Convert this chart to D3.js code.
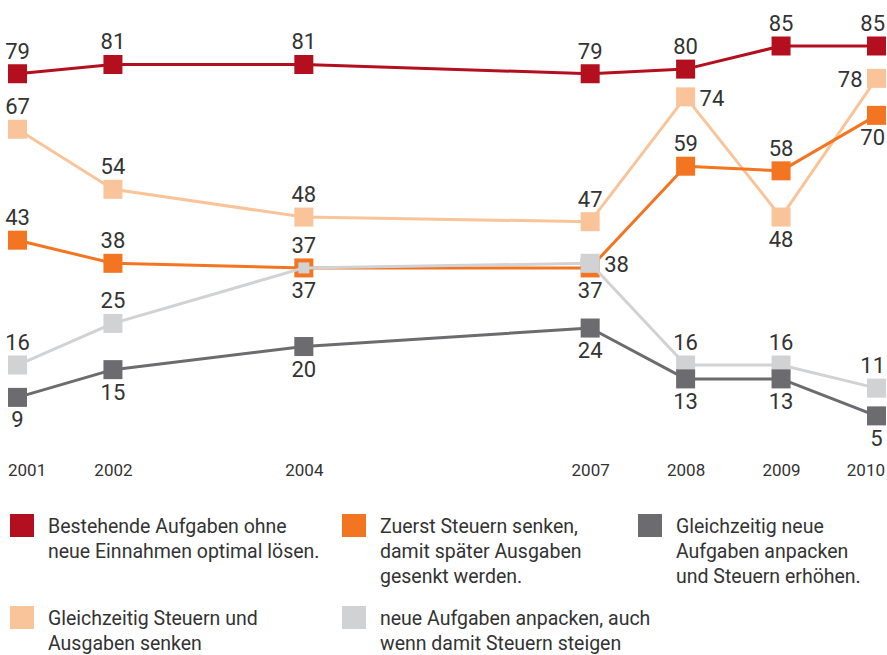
<!DOCTYPE html>
<html>
<head>
<meta charset="utf-8">
<script src="https://cdn.jsdelivr.net/npm/d3@7"></script>
<style>
  body { margin: 0; background: #fff; }
  svg { display: block; }
  .val { font-family: Roboto, sans-serif; font-size: 22px; fill: #333; }
  .axis text { font-family: Roboto, sans-serif; font-size: 17px; fill: #333; }
  .legend text { font-family: Roboto, sans-serif; font-size: 19.5px; fill: #333; }
</style>
</head>
<body>
<div id="chart"></div>
<script>
'use strict';

// survey years
var years = [2001, 2002, 2004, 2007, 2008, 2009, 2010];

// values per answer (percent)
var bestehende = [79, 81, 81, 79, 80, 85, 85];
var gleichzeitigSenken = [67, 54, 48, 47, 74, 48, 78];
var zuerstSenken = [43, 38, 37, 37, 59, 58, 70];
var neueAufgaben = [16, 25, 37, 38, 16, 16, 11];
var gleichzeitigErhoehen = [9, 15, 20, 24, 13, 13, 5];

// legend texts, split into lines as in the original
var legendBestehende = ["Bestehende Aufgaben ohne", "neue Einnahmen optimal lösen."];
var legendZuerst = ["Zuerst Steuern senken,", "damit später Ausgaben", "gesenkt werden."];
var legendErhoehen = ["Gleichzeitig neue", "Aufgaben anpacken", "und Steuern erhöhen."];
var legendSenken = ["Gleichzeitig Steuern und", "Ausgaben senken"];
var legendNeue = ["neue Aufgaben anpacken, auch", "wenn damit Steuern steigen"];

// where each value label sits relative to its marker: t=top, b=bottom, l=left, r=right
var labelsBestehende = ["t", "t", "t", "t", "t", "t", "t"];
var labelsSenken = ["t", "t", "t", "t", "r", "b", "l"];
var labelsZuerst = ["t", "t", "t", "b", "t", "t", "b"];
var labelsNeue = ["t", "t", "b", "r", "t", "t", "t"];
var labelsErhoehen = ["b", "b", "b", "b", "b", "b", "b"];

var width = 887, height = 655;
var markerSize = 19;

// drawing order matters: later series sit on top
var series = [
    {values: bestehende, color: "#b30f1f", labels: labelsBestehende},
    {values: gleichzeitigSenken, color: "#f9c49a", labels: labelsSenken},
    {values: zuerstSenken, color: "#f37521", labels: labelsZuerst},
    {values: neueAufgaben, color: "#d1d2d4", labels: labelsNeue, insetOn: zuerstSenken},
    {values: gleichzeitigErhoehen, color: "#6b6b70", labels: labelsErhoehen}
];

var legendItems = [
    {lines: legendBestehende, color: "#b30f1f", col: 0, row: 0},
    {lines: legendZuerst, color: "#f37521", col: 1, row: 0},
    {lines: legendErhoehen, color: "#6b6b70", col: 2, row: 0},
    {lines: legendSenken, color: "#f9c49a", col: 0, row: 1},
    {lines: legendNeue, color: "#d1d2d4", col: 1, row: 1}
];

var svg = d3.select("#chart").append("svg")
    .attr("width", width)
    .attr("height", height);

var x = d3.scaleLinear().domain([2001, 2010]).range([17.5, 876.5]);
var y = d3.scaleLinear().domain([0, 85]).range([439, 46]);

var line = d3.line()
    .x(function(d) { return x(d.year); })
    .y(function(d) { return y(d.value); });

var plot = svg.append("g").attr("class", "plot");

series.forEach(function(s) {
    var pts = years.map(function(yr, i) {
        return {year: yr, value: s.values[i], pos: s.labels[i], inset: s.insetOn ? s.insetOn[i] === s.values[i] : false};
    });
    s.points = pts;

    var g = plot.append("g");
    g.append("path")
        .datum(pts)
        .attr("fill", "none")
        .attr("stroke", s.color)
        .attr("stroke-width", 3)
        .attr("stroke-linejoin", "round")
        .attr("d", line);

    g.selectAll("rect")
        .data(pts)
        .enter().append("rect")
        .attr("x", function(d) { var sz = d.inset ? 11 : markerSize; return x(d.year) - sz / 2; })
        .attr("y", function(d) { var sz = d.inset ? 11 : markerSize; return y(d.value) - sz / 2; })
        .attr("width", function(d) { return d.inset ? 11 : markerSize; })
        .attr("height", function(d) { return d.inset ? 11 : markerSize; })
        .attr("fill", s.color);
});

// value labels on top of everything
var labelG = svg.append("g").attr("class", "labels");
series.forEach(function(s) {
    labelG.selectAll(null)
        .data(s.points)
        .enter().append("text")
        .attr("class", "val")
        .attr("x", function(d) {
            var cx = x(d.year);
            if (d.pos === "r") return cx + 14;
            if (d.pos === "l") return cx - 14;
            return cx;
        })
        .attr("y", function(d) {
            var cy = y(d.value);
            if (d.pos === "t") return cy - 15;
            if (d.pos === "b") return cy + 30;
            return cy + 9;
        })
        .attr("text-anchor", function(d) {
            if (d.pos === "r") return "start";
            if (d.pos === "l") return "end";
            return "middle";
        })
        .text(function(d) { return d.value; });
});

// keep centred labels inside the right edge
labelG.selectAll("text").each(function() {
    var el = d3.select(this);
    if (el.attr("text-anchor") !== "middle") return;
    var w = this.getComputedTextLength();
    var cx = +el.attr("x");
    if (cx + w / 2 > width - 2) el.attr("x", width - 2 - w / 2);
});

// year labels, no axis line or ticks
var axis = svg.append("g")
    .attr("class", "axis")
    .attr("transform", "translate(0,476)")
    .call(d3.axisBottom(x).tickValues(years).tickFormat(d3.format("d")).tickSize(0).tickPadding(0));
axis.select(".domain").remove();
axis.selectAll("text")
    .attr("y", 0)
    .attr("dy", 0)
    .attr("fill", "#333")
    .attr("text-anchor", function(d, i) {
        if (i === 0) return "start";
        if (i === years.length - 1) return "end";
        return "middle";
    })
    .attr("x", function(d, i) {
        if (i === 0) return -10;
        if (i === years.length - 1) return 8;
        return 0;
    });

// legend
var colX = [10, 342, 638];
var rowY = [514, 606];
var legend = svg.append("g").attr("class", "legend");
legendItems.forEach(function(item) {
    var lx = colX[item.col], ly = rowY[item.row];
    legend.append("rect")
        .attr("x", lx)
        .attr("y", ly)
        .attr("width", 24)
        .attr("height", 23)
        .attr("fill", item.color);
    var t = legend.append("text")
        .attr("x", lx + 38)
        .attr("y", ly + 19);
    t.selectAll("tspan")
        .data(item.lines)
        .enter().append("tspan")
        .attr("x", lx + 38)
        .attr("dy", function(d, i) { return i === 0 ? 0 : 25; })
        .text(function(d) { return d; });
});
</script>
</body>
</html>
